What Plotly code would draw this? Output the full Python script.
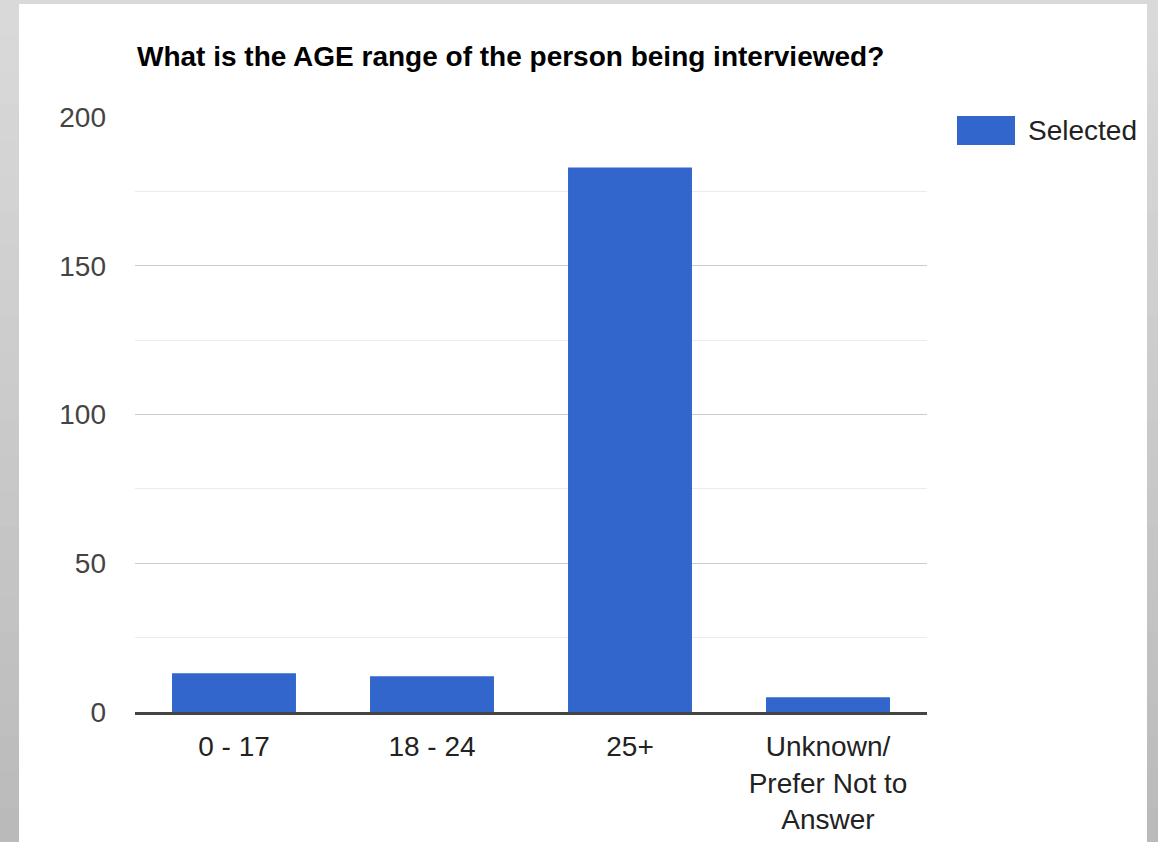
import plotly.graph_objects as go

# Survey answers: age range of the interviewee
categories = ["0 - 17", "18 - 24", "25+", "Unknown/<br>Prefer Not to<br>Answer"]
selected = [13, 12, 183, 5]
series_name = "Selected"
title_text = "What is the AGE range of the person being interviewed?"
y_ticks = [0, 50, 100, 150, 200]

W, H = 1158, 842
L, R, T, B = 135, 927, 117, 712  # plot area in pixels
BAR_COLOR = "#3366cc"
FONT = "Liberation Sans, Arial, sans-serif"


def px_x(px):
    return (px - L) / (R - L)


def px_y(py):
    return (B - py) / (B - T)


fig = go.Figure(
    go.Bar(
        x=categories,
        y=selected,
        name=series_name,
        marker=dict(color=BAR_COLOR, line=dict(width=0)),
        showlegend=False,
    )
)

shapes = []
# grey frame with a soft vertical gradient
steps = 24
for i in range(steps):
    g0 = 0xd9 - int((0xd9 - 0xba) * i / (steps - 1))
    y0 = H * i / steps
    y1 = H * (i + 1) / steps + 1
    shapes.append(dict(
        type="rect", xref="paper", yref="paper",
        x0=px_x(0), x1=px_x(W), y0=px_y(y1), y1=px_y(y0),
        fillcolor=f"rgb({g0},{g0},{g0})", line=dict(width=0), layer="below",
    ))
# white card
shapes.append(dict(
    type="rect", xref="paper", yref="paper",
    x0=px_x(19), x1=px_x(1147), y0=px_y(H + 20), y1=px_y(4),
    fillcolor="white", line=dict(width=0), layer="below",
))
# legend swatch
shapes.append(dict(
    type="rect", xref="paper", yref="paper",
    x0=px_x(957), x1=px_x(1015), y0=px_y(145), y1=px_y(116),
    fillcolor=BAR_COLOR, line=dict(width=0), layer="above",
))

annotations = [
    dict(
        text=series_name, xref="paper", yref="paper",
        x=px_x(1026), y=px_y(130), xanchor="left", yanchor="middle",
        showarrow=False, font=dict(family=FONT, size=28, color="#222222"),
    ),
    dict(
        text=f"<b>{title_text}</b>", xref="paper", yref="paper",
        x=0, y=px_y(57), xanchor="left", yanchor="middle",
        showarrow=False, font=dict(family=FONT, size=28, color="#000000"),
    ),
]

fig.update_layout(
    width=W, height=H,
    margin=dict(l=L, r=W - R, t=T, b=H - B, pad=0, autoexpand=False),
    paper_bgcolor="#d9d9d9",
    plot_bgcolor="rgba(0,0,0,0)",
    bargap=0.374,
    shapes=shapes,
    annotations=annotations,
    font=dict(family=FONT, size=28, color="#222222"),
    xaxis=dict(
        showgrid=False, showline=True, linecolor="#444444", linewidth=2.5,
        ticks="", tickfont=dict(family=FONT, size=28, color="#222222"),
        ticklabelstandoff=8, automargin=False, fixedrange=True,
    ),
    yaxis=dict(
        range=[0, 200], tickvals=y_ticks, showgrid=True, gridcolor="#cccccc",
        gridwidth=1.2, zeroline=False, showline=False, ticks="",
        tickfont=dict(family=FONT, size=28, color="#444444"),
        ticklabelstandoff=28, automargin=False,
        minor=dict(tickvals=[25, 75, 125, 175], showgrid=True,
                   gridcolor="#ebebeb", gridwidth=1.2),
    ),
)

fig.write_html("out.html")
